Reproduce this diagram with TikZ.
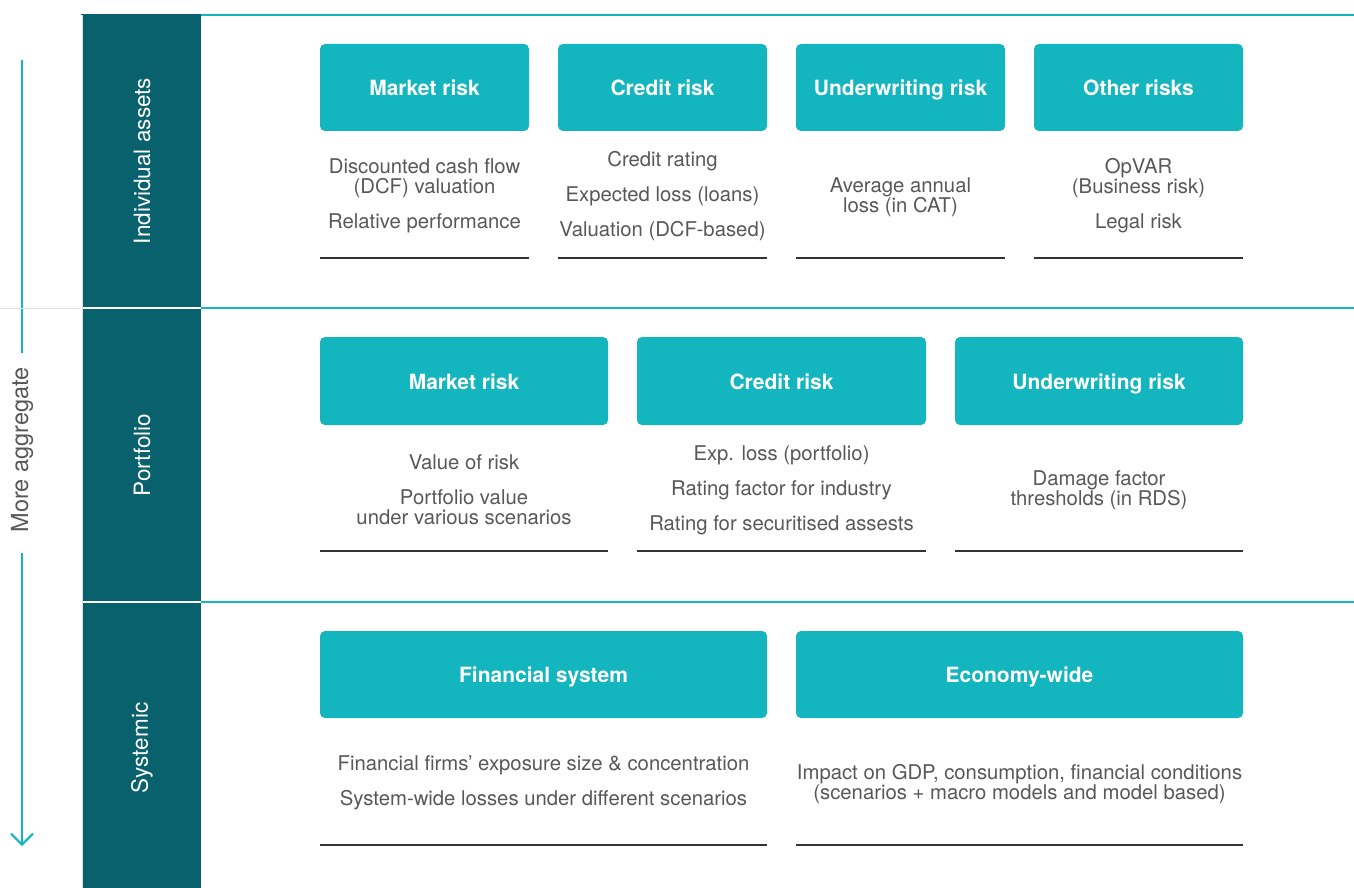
\documentclass[tikz,border=0pt]{standalone}
\usepackage{fontspec}
\setmainfont{TeX Gyre Heros}
\usetikzlibrary{arrows.meta}
\definecolor{tealbox}{HTML}{13B5BE}
\definecolor{darkcol}{HTML}{08616C}
\definecolor{descgray}{HTML}{585858}
\definecolor{rulegray}{HTML}{333333}
\definecolor{thingray}{HTML}{DDDDDD}
\tikzset{
  riskbox/.style={fill=tealbox, rounded corners=5pt, text=white, inner sep=0pt,
    text height=18pt, text depth=2pt,
    font=\bfseries\fontsize{21}{22}\selectfont},
  desc/.style={text=descgray, align=center, inner sep=0pt,
    font=\fontsize{20.3}{20}\selectfont},
  sepline/.style={draw=rulegray, line width=1.5pt},
  tealline/.style={draw=tealbox, line width=2pt},
  colblock/.style={fill=darkcol, draw=none},
  collabel/.style={text=white, rotate=90, inner sep=0pt, font=\fontsize{22.5}{24}\selectfont},
  aggtext/.style={text=descgray, rotate=90, inner sep=0pt, font=\fontsize{23.5}{24}\selectfont},
}
\begin{document}
\begin{tikzpicture}[x=1pt, y=-1pt]
\useasboundingbox[fill=white] (0,0) rectangle (1354,888);

% left arrow
\coordinate (a1) at (22,60);
\coordinate (a2) at (22,353);
\coordinate (a3) at (22,553);
\coordinate (a4) at (22,846);
\node[aggtext] (agg) at (22,450) {More aggregate};
\draw[tealline] (a1) -- (a2);
\draw[tealline, -{Straight Barb[length=11pt,width=22pt,line width=2pt]}] (a3) -- (a4);

% thin gray line
\coordinate (g1) at (0,308);
\coordinate (g2) at (80,308);
\draw[thingray, line width=0.8pt] (g1) -- (g2);

% dark column
\draw[thingray, line width=0.8pt] (82.2,14) -- (82.2,888);
\fill[colblock] (83,14) rectangle (201,306.8);
\fill[colblock] (83,309.3) rectangle (201,600.6);
\fill[colblock] (83,603.1) rectangle (201,888);
\draw[darkcol, line width=0.8pt] (81,14.4) -- (201,14.4);

% teal separators
\coordinate (t1a) at (201,15.5); \coordinate (t1b) at (1354,15.5);
\coordinate (t2a) at (201,308); \coordinate (t2b) at (1354,308);
\coordinate (t3a) at (201,601.8); \coordinate (t3b) at (1354,601.8);
\draw[tealline] (t1a) -- (t1b);
\draw[tealline] (t2a) -- (t2b);
\draw[tealline] (t3a) -- (t3b);

% column labels
\node[collabel] (c1) at (142,161) {Individual assets};
\node[collabel] (c2) at (142,455) {Portfolio};
\node[collabel] (c3) at (142,748) {Systemic};

% Row 1
\node[riskbox, minimum width=209pt, minimum height=87pt] (r11) at (424.5,87.5) {Market risk};
\node[riskbox, minimum width=209pt, minimum height=87pt] (r12) at (662.5,87.5) {Credit risk};
\node[riskbox, minimum width=209pt, minimum height=87pt] (r13) at (900.5,87.5) {Underwriting risk};
\node[riskbox, minimum width=209pt, minimum height=87pt] (r14) at (1138.5,87.5) {Other risks};

\node[desc] (d11) at (424.5,196) {Discounted cash flow\\(DCF) valuation\\[15pt]Relative performance};
\node[desc] (d12) at (662.5,196) {Credit rating\\[15pt]Expected loss (loans)\\[15pt]Valuation (DCF-based)};
\node[desc] (d13) at (900.5,197) {Average annual\\loss (in CAT)};
\node[desc] (d14) at (1138.5,196) {OpVAR\\(Business risk)\\[15pt]Legal risk};

\foreach \n in {r11,r12,r13,r14}{
  \draw[sepline] ([yshift=-127pt]\n.south west) -- ([yshift=-127pt]\n.south east);
}

% Row 2
\node[riskbox, minimum width=288pt, minimum height=88pt] (r21) at (464,381) {Market risk};
\node[riskbox, minimum width=289pt, minimum height=88pt] (r22) at (781.5,381) {Credit risk};
\node[riskbox, minimum width=288pt, minimum height=88pt] (r23) at (1099,381) {Underwriting risk};

\node[desc] (d21) at (464,490) {Value of risk\\[15pt]Portfolio value\\under various scenarios};
\node[desc] (d22) at (781.5,490) {Exp. loss (portfolio)\\[15pt]Rating factor for industry\\[15pt]Rating for securitised assests};
\node[desc] (d23) at (1099,490) {Damage factor\\thresholds (in RDS)};

\foreach \n in {r21,r22,r23}{
  \draw[sepline] ([yshift=-126pt]\n.south west) -- ([yshift=-126pt]\n.south east);
}

% Row 3
\node[riskbox, minimum width=447pt, minimum height=87pt] (r31) at (543.5,674.5) {Financial system};
\node[riskbox, minimum width=447pt, minimum height=87pt] (r32) at (1019.5,674.5) {Economy-wide};

\node[desc] (d31) at (543.5,783) {Financial firms’ exposure size \& concentration\\[15pt]System-wide losses under different scenarios};
\node[desc] (d32) at (1019.5,784) {Impact on GDP, consumption, financial conditions\\(scenarios + macro models and model based)};

\foreach \n in {r31,r32}{
  \draw[sepline] ([yshift=-127pt]\n.south west) -- ([yshift=-127pt]\n.south east);
}
\end{tikzpicture}
\end{document}
